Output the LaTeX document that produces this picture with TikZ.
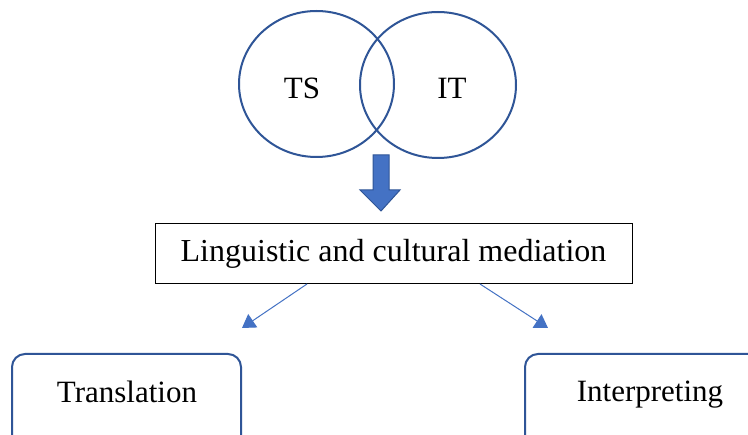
\documentclass[tikz,border=0pt]{standalone}
\usepackage{fontspec}
\setmainfont{Liberation Serif}
\usetikzlibrary{arrows.meta,shapes.arrows}
\definecolor{ring}{HTML}{2F5597}
\definecolor{accent}{HTML}{4472C4}
\tikzset{
  venn/.style={draw=ring,line width=2pt},
  lbl/.style={font=\fontsize{31}{36}\selectfont,inner sep=0pt},
  outcome/.style={draw=ring,line width=2pt,rounded corners=13pt},
  branch/.style={draw=accent,line width=1pt,-{Triangle[length=13pt,width=16pt]}}
}
\begin{document}
\begin{tikzpicture}[x=1pt,y=-1pt]
\useasboundingbox (0,0) rectangle (748,435);
\clip (0,0) rectangle (748,435);
\fill[white] (0,0) rectangle (748,435);
% Venn circles
\draw[venn] (316.5,84) ellipse [x radius=77.5,y radius=73];
\draw[venn] (438,85) ellipse [x radius=78,y radius=73];
\node[lbl] (ts) at (302,88) {TS};
\node[lbl] (it) at (452,88) {IT};
% block arrow
\draw[draw=ring,fill=accent,line width=1pt] (373,155) -- (389,155) -- (389,190) -- (400,190) -- (381,211) -- (360,190) -- (373,190) -- cycle;
% mediation box
\node[draw=black,line width=1pt,minimum width=477pt,minimum height=60pt,inner sep=0pt,font=\fontsize{32}{38}\selectfont] (med) at (393.5,254) {Linguistic and cultural mediation};
% outcome boxes
\draw[outcome] (12,460) -- (12,354) -- (241,354) -- (241,460);
\node[lbl] (tr) at (127,392) {Translation};
\draw[outcome] (525,460) -- (525,354) -- (780,354) -- (780,460);
\node[lbl] (in) at (650,395) {Interpreting};
\coordinate (tl) at (242,328);
\coordinate (tr2) at (548,328);
\draw[branch] (307,284) -- (tl);
\draw[branch] (480,284) -- (tr2);
\end{tikzpicture}
\end{document}
